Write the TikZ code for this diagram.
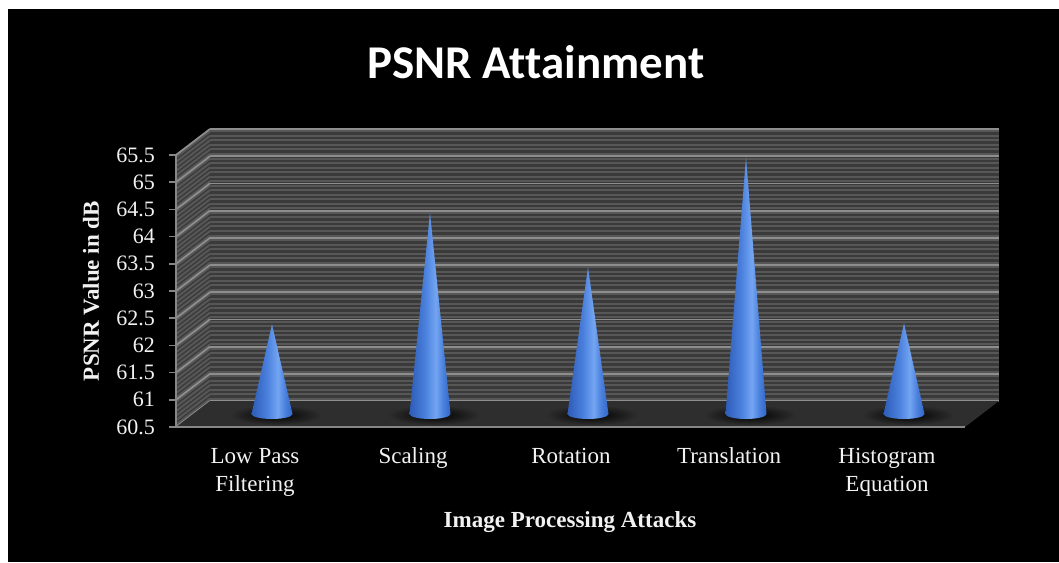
\documentclass[tikz,border=0pt]{standalone}
\usepackage{fontspec}
\setmainfont{Liberation Serif}
\newfontfamily\titlefont[Ligatures=NoCommon]{Carlito}

\definecolor{wallA}{HTML}{3A3A3A}
\definecolor{wallB}{HTML}{575757}
\definecolor{gridc}{HTML}{8E8E8E}
\definecolor{floorc}{HTML}{2E2E2E}
\definecolor{axisc}{HTML}{868686}
\definecolor{labelc}{HTML}{F2F2F2}
\definecolor{coneA}{HTML}{2E5CB8}
\definecolor{coneB}{HTML}{4A80DD}
\definecolor{coneC}{HTML}{74A5F2}
\definecolor{coneD}{HTML}{3466C8}

% cone body: darker rim on the left, highlight right of centre
\pgfdeclarehorizontalshading{conesh}{100bp}{color(0bp)=(coneA); color(25bp)=(coneA);
  color(44bp)=(coneB); color(57bp)=(coneC); color(66bp)=(coneB); color(75bp)=(coneD); color(100bp)=(coneD)}

\tikzset{
  ticklabel/.style={anchor=east, inner sep=0pt, text=labelc, font=\fontsize{22}{26}\selectfont},
  catlabel/.style={anchor=base, inner sep=0pt, align=center, text=labelc, font=\fontsize{23}{28}\selectfont},
  axistitle/.style={inner sep=0pt, text=labelc, font=\bfseries\fontsize{23}{28}\selectfont},
  gridline/.style={draw=gridc, line width=1.8pt},
  stripe/.style={draw=wallB, line width=2pt},
}

\begin{document}
\begin{tikzpicture}[x=1pt, y=-1pt]
\useasboundingbox (0,0) rectangle (1059,562);
\fill[black] (8,9) rectangle (1059,562);

% back wall with fine horizontal stripes
\fill[wallA] (210,129) rectangle (999,401);
\foreach \k in {0,...,59}
  \draw[stripe] (210,{129+\k*4.533+2.3}) -- (999,{129+\k*4.533+2.3});

% side wall, stripes running in depth direction
\fill[wallA] (176,155) -- (210,129) -- (210,401) -- (176,427) -- cycle;
\foreach \k in {0,...,59}
  \draw[stripe] (176,{155+\k*4.533+2.3}) -- ++(34,-26);

% major gridlines on both walls
\foreach \k in {0,...,10} {
  \draw[gridline] (210,{129+\k*27.2}) -- (999,{129+\k*27.2});
  \draw[gridline] (176,{155+\k*27.2}) -- ++(34,-26);
}

% floor
\fill[floorc] (176,427) -- (210,401) -- (999,401) -- (965,427) -- cycle;
\draw[axisc, line width=1.8pt] (176,427) -- (965,427);

% value axis with ticks and labels
\draw[axisc, line width=1.5pt] (176,155) -- (176,427);
\foreach \v [count=\k from 0] in {65.5,65,64.5,64,63.5,63,62.5,62,61.5,61,60.5} {
  \draw[axisc, line width=1.5pt] (169,{155+\k*27.2}) -- (176,{155+\k*27.2});
  \node[ticklabel] (tick\k) at (155,{155+\k*27.2}) {\v};
}

% cones with their floor shadows
\foreach \cx/\v [count=\i] in {272/62.15, 430/64.2, 588/63.2, 746/65.22, 904/62.17} {
  \shade[inner color=black, outer color=floorc] (\cx+4,415) ellipse [x radius=46, y radius=10];
  \shade[shading=conesh]
    (\cx-20.5,414) -- (\cx,{414-(\v-60.5)*54.4}) -- (\cx+20.5,414)
    arc[start angle=0, end angle=180, x radius=20.5, y radius=5] -- cycle;
}

% category labels (a two-line label sits on the baseline of its last line)
\node[catlabel] (cat1) at (255,491) {Low Pass\\Filtering};
\node[catlabel] (cat2) at (413,463) {Scaling};
\node[catlabel] (cat3) at (571,463) {Rotation};
\node[catlabel] (cat4) at (729,463) {Translation};
\node[catlabel] (cat5) at (887,491) {Histogram\\Equation};

% titles
\node[axistitle, anchor=base] (xtitle) at (570,527) {Image Processing Attacks};
\node[axistitle, rotate=90] (ytitle) at (91,291) {PSNR Value in dB};
\node[anchor=base, inner sep=0pt, text=white, font=\titlefont\bfseries\fontsize{47}{50}\selectfont] (title) at (536,78) {PSNR Attainment};
\end{tikzpicture}
\end{document}
